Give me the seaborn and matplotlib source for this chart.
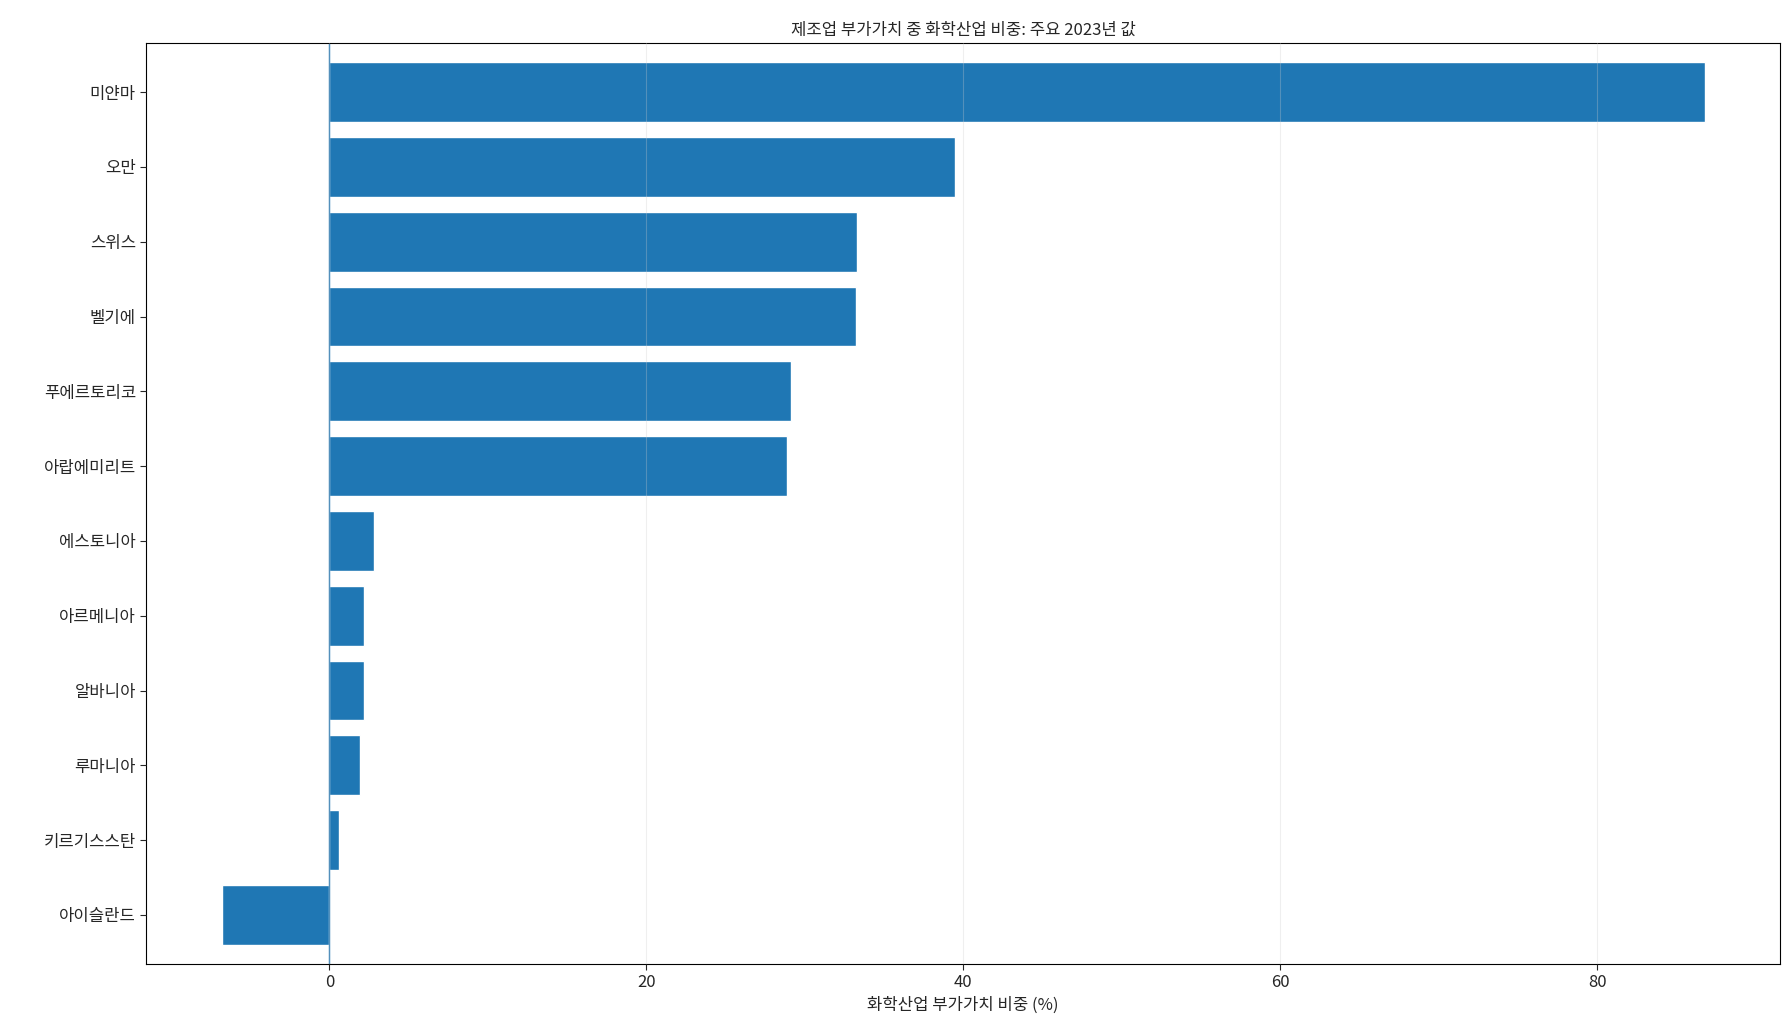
import matplotlib
matplotlib.use("Agg")
import matplotlib.pyplot as plt
import seaborn as sns
import pandas as pd

countries = ["미얀마", "오만", "스위스", "벨기에", "푸에르토리코", "아랍에미리트",
             "에스토니아", "아르메니아", "알바니아", "루마니아", "키르기스스탄", "아이슬란드"]
values = [86.8, 39.5, 33.3, 33.2, 29.1, 28.9, 2.8, 2.2, 2.2, 1.9, 0.6, -6.8]

sns.set_style("white")
plt.rcParams['font.family'] = ['Noto Sans CJK KR', 'DejaVu Sans']
plt.rcParams['font.size'] = 12

df = pd.DataFrame({"country": countries, "value": values})
fig = plt.figure(figsize=(17.85, 10.35), dpi=100)
ax = fig.add_axes([0.082, 0.069, 0.915, 0.889])
sns.barplot(data=df, x="value", y="country", color="#1f77b4", saturation=1,
            width=0.8, ax=ax, orient="h")
ax.axvline(0, color="#1f77b4", linewidth=1)
ax.grid(axis="x", alpha=0.3)
ax.set_axisbelow(False)
for s in ax.spines.values():
    s.set_visible(True); s.set_color("black")
ax.tick_params(axis="both", length=4, left=True, bottom=True, labelsize=12)
ax.set_xlabel("화학산업 부가가치 비중 (%)", fontsize=12)
ax.set_ylabel("")
ax.set_title("제조업 부가가치 중 화학산업 비중: 주요 2023년 값", fontsize=12)
ax.set_xlim(-11.55, 91.5)
ax.set_ylim(11.65, -0.65)
fig.savefig("out.png", dpi=100)
